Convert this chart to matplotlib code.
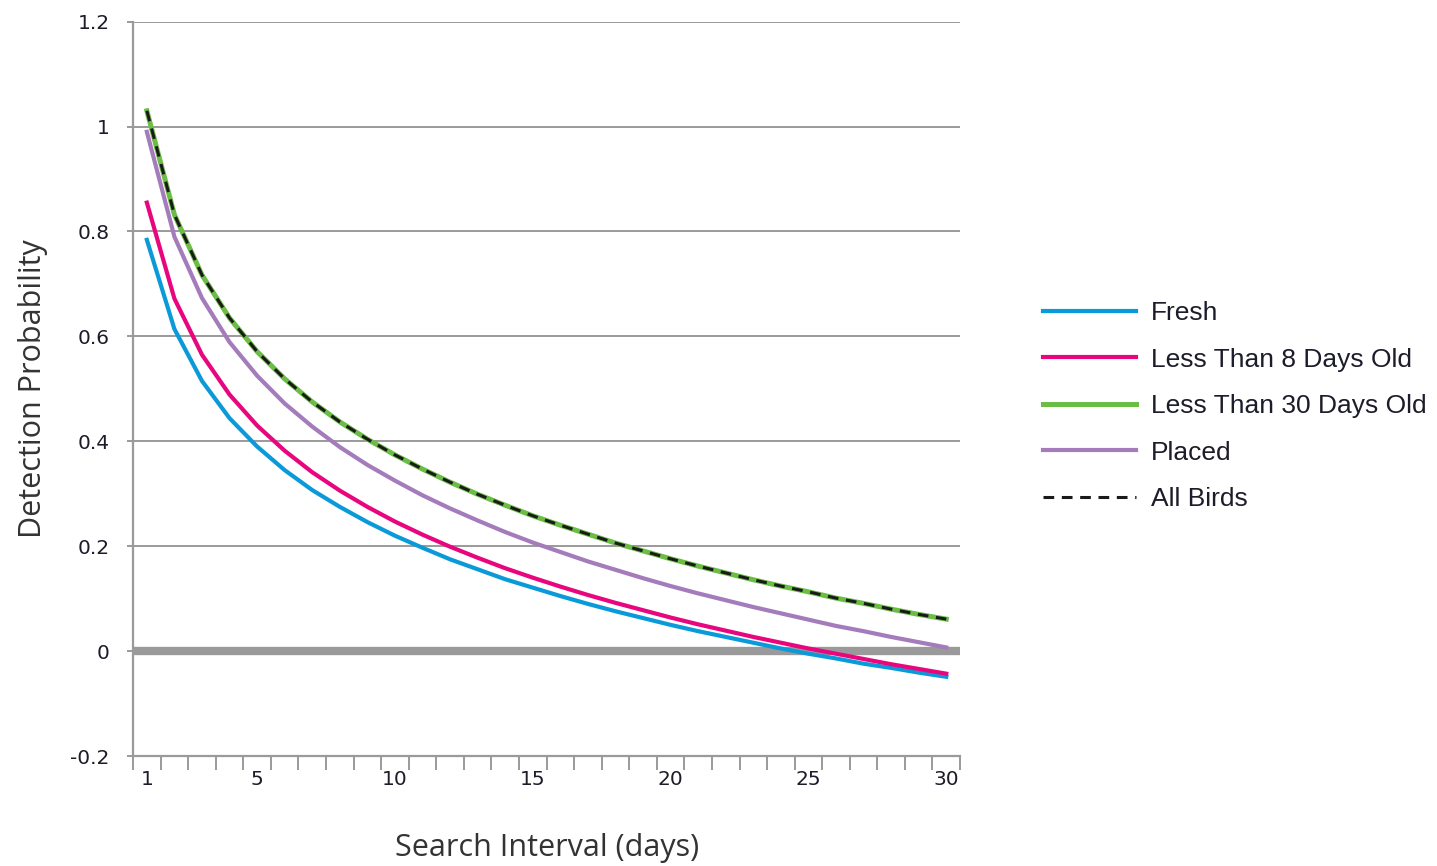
import matplotlib.pyplot as plt

# search interval in days (category axis)
days = list(range(1, 31))

fresh = [0.784, 0.614, 0.515, 0.444, 0.390, 0.345, 0.307, 0.275, 0.246, 0.220,
         0.197, 0.175, 0.156, 0.137, 0.121, 0.105, 0.090, 0.076, 0.063, 0.050,
         0.038, 0.027, 0.016, 0.005, -0.005, -0.014, -0.024, -0.032, -0.041, -0.049]
lt8 = [0.855, 0.672, 0.565, 0.489, 0.430, 0.382, 0.341, 0.306, 0.275, 0.247,
       0.222, 0.199, 0.178, 0.158, 0.140, 0.123, 0.107, 0.092, 0.078, 0.064,
       0.051, 0.039, 0.027, 0.016, 0.005, -0.005, -0.015, -0.025, -0.034, -0.043]
lt30 = [1.030, 0.832, 0.717, 0.635, 0.571, 0.519, 0.475, 0.437, 0.404, 0.374,
        0.347, 0.322, 0.299, 0.278, 0.258, 0.240, 0.223, 0.206, 0.191, 0.176,
        0.162, 0.149, 0.136, 0.124, 0.113, 0.101, 0.091, 0.080, 0.070, 0.061]
placed = [0.990, 0.790, 0.673, 0.589, 0.525, 0.472, 0.428, 0.389, 0.355, 0.325,
          0.297, 0.272, 0.249, 0.227, 0.207, 0.189, 0.171, 0.155, 0.139, 0.124,
          0.110, 0.097, 0.084, 0.072, 0.060, 0.048, 0.038, 0.027, 0.017, 0.007]
all_birds = [1.030, 0.832, 0.717, 0.635, 0.571, 0.519, 0.475, 0.437, 0.404, 0.374,
             0.347, 0.322, 0.299, 0.278, 0.258, 0.240, 0.223, 0.206, 0.191, 0.176,
             0.162, 0.149, 0.136, 0.124, 0.113, 0.101, 0.091, 0.080, 0.070, 0.061]

y_ticks = [-0.2, 0, 0.2, 0.4, 0.6, 0.8, 1.0, 1.2]
y_labels = ["-0.2", "0", "0.2", "0.4", "0.6", "0.8", "1", "1.2"]
x_labeled = [1, 5, 10, 15, 20, 25, 30]

grid_col = "#9a9a9a"
text_col = "#1c1c2a"
tick_font = "DejaVu Sans"
legend_font = "Liberation Sans"
title_font = "Open Sans"

fig = plt.figure(figsize=(14.37, 8.66), dpi=100)
ax = fig.add_axes([0.0926, 0.127, 0.5755, 0.848])

# gridlines, thick zero line
for v in y_ticks[1:]:
    if v == 0:
        continue
    ax.axhline(v, color=grid_col, lw=1.4, zorder=1)
ax.axhline(0, color="#9a9a9a", lw=6, zorder=1)

ax.plot(days, fresh, color="#0a9ad9", lw=3, label="Fresh", zorder=3)
ax.plot(days, lt8, color="#e8067f", lw=3, label="Less Than 8 Days Old", zorder=3)
ax.plot(days, lt30, color="#6bbd45", lw=3.6, label="Less Than 30 Days Old", zorder=3)
ax.plot(days, placed, color="#a47bbb", lw=3, label="Placed", zorder=3)
ax.plot(days, all_birds, color="#1a1a1a", lw=2.2, ls=(0, (3.5, 2.5)), label="All Birds", zorder=4)

ax.set_xlim(0.5, 30.5)
ax.set_ylim(-0.2, 1.2)

for s in ["top", "right"]:
    ax.spines[s].set_visible(False)
for s in ["left", "bottom"]:
    ax.spines[s].set_color(grid_col)
    ax.spines[s].set_linewidth(1.6)

ax.set_yticks(y_ticks)
ax.set_yticklabels(y_labels, fontsize=14.5, family=tick_font, color=text_col)
ax.tick_params(axis="y", length=4, color=grid_col, width=1.4, pad=13)

# ticks at category boundaries, labels at selected categories
ax.set_xticks([d + 0.5 for d in range(0, 31)])
ax.set_xticklabels([])
ax.tick_params(axis="x", which="major", length=10, color=grid_col, width=1.4)
ax.set_xticks(x_labeled, minor=True)
ax.set_xticklabels([str(d) for d in x_labeled], minor=True, fontsize=14.5,
                   family=tick_font, color=text_col)
ax.tick_params(axis="x", which="minor", length=0, pad=10)

ax.set_ylabel("Detection Probability", fontsize=22, family=title_font,
              color="#333333", labelpad=16)
ax.set_xlabel("Search Interval (days)", fontsize=22, family=title_font,
              color="#333333", labelpad=32)

fig.legend(loc="upper left", bbox_to_anchor=(0.7095, 0.6795), frameon=False,
           prop={"family": legend_font, "size": 19}, handlelength=3.5,
           labelspacing=0.85, handletextpad=0.57, labelcolor=text_col)

fig.savefig("out.png", dpi=100)
